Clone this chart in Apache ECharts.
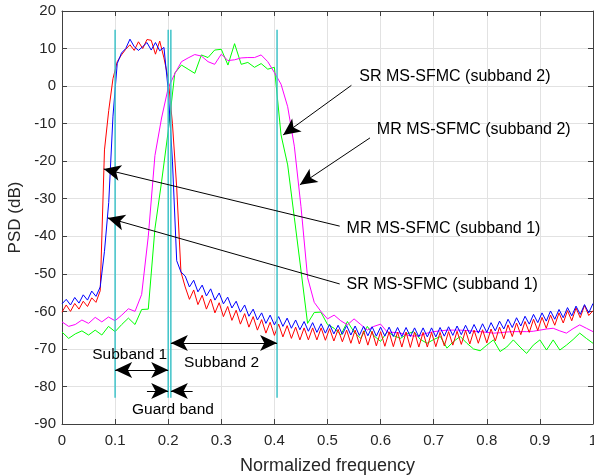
<!DOCTYPE html>
<html>
<head>
<meta charset="utf-8">
<title>PSD of MS-SFMC subbands</title>
<script src="https://cdn.jsdelivr.net/npm/echarts@6/dist/echarts.min.js"></script>
<style>
  html, body { margin: 0; padding: 0; background: #fff; }
  #main { width: 594px; height: 475px; }
</style>
</head>
<body>
<div id="main"></div>
<script>
// normalized frequency grids
const fineStep = 0.008;     // subband 1 curves
const coarseStep = 0.0125;  // subband 2 curves

// PSD (dB)
// SR MS-SFMC (subband 1) - blue
const srSub1 = [
  -58, -56.8, -58.3, -56.3, -57.8, -55.6, -57, -54.6, -56, -53.5,
  -44, -31, -8, 6, 8.8, 10, 12.5, 10.5, 9.5, 10.5,
  11.6, 9.6, 11.6, 9.4, 10.3, -1, -20, -46.5, -49.5, -50.6,
  -53.5, -51.7, -54.8, -53.0, -55.9, -54.0, -57.0, -55.1, -58.0, -56.2,
  -59.1, -57.3, -60.2, -58.3, -61.3, -59.4, -62.3, -60.4, -63.2, -61.0,
  -63.6, -61.4, -64.0, -61.8, -64.5, -62.3, -64.9, -62.7, -65.3, -63.0,
  -65.6, -63.3, -65.8, -63.5, -66.0, -63.7, -66.1, -63.8, -66.3, -63.9,
  -66.4, -64.0, -66.5, -64.1, -66.6, -64.2, -66.6, -64.2, -66.7, -64.3,
  -66.7, -64.3, -66.7, -64.4, -66.8, -64.4, -66.8, -64.4, -66.8, -64.3,
  -66.6, -64.1, -66.4, -63.9, -66.2, -63.7, -66.0, -63.5, -65.8, -63.3,
  -65.6, -63.0, -65.2, -62.6, -64.7, -62.1, -64.3, -61.7, -63.9, -61.3,
  -63.4, -60.8, -63.0, -60.4, -62.6, -59.9, -62.1, -59.5, -61.7, -59.0,
  -61.2, -58.6, -60.8, -58.2, -60.4, -57.9
];
// MR MS-SFMC (subband 1) - red
const mrSub1 = [
  -60.2, -58.3, -60.0, -57.9, -59.4, -57.3, -58.7, -56.4, -57.6, -54.5,
  -17, -6.5, 2, 6.5, 8.3, 9.8, 11, 9.5, 11.8, 10,
  12.4, 12.2, 8.5, 12.0, 7.5, 2, -10, -27, -49.5, -53.5,
  -56.8, -54.3, -58.2, -55.7, -59.4, -56.7, -60.4, -57.7, -61.4, -58.7,
  -62.4, -59.7, -63.4, -60.6, -64.2, -61.4, -65.0, -62.2, -65.8, -62.9,
  -66.4, -63.4, -66.8, -63.8, -67.2, -64.2, -67.6, -64.4, -67.6, -64.4,
  -67.6, -64.4, -67.7, -64.6, -67.9, -64.8, -68.1, -65.0, -68.5, -65.0,
  -68.7, -65.2, -69.0, -65.3, -69.2, -65.4, -69.3, -65.5, -69.4, -65.5,
  -69.5, -65.5, -69.6, -65.5, -69.5, -65.6, -69.5, -65.6, -69.4, -65.6,
  -69.2, -65.4, -69.0, -65.3, -68.8, -65.1, -68.7, -65.0, -68.5, -64.9,
  -68.4, -64.7, -67.9, -64.2, -67.3, -63.6, -66.7, -63.1, -66.2, -62.7,
  -65.6, -62.1, -65.1, -61.6, -64.5, -61.0, -63.7, -60.4, -63.1, -59.8,
  -62.5, -59.1, -61.7, -58.4, -61.1, -59.8
];
// SR MS-SFMC (subband 2) - green
const srSub2 = [
  -65.5, -67.2, -66.0, -65.2, -66.3, -65.0, -66.3, -64.0, -65.4, -63.5,
  -61.8, -63.5, -59.5, -59.4, -38, -25.5, -12, 3.5, 5.6, 4.5,
  3.4, 8.3, 7.6, 9.6, 9.8, 5.6, 11.3, 5.8, 6.3, 5.0,
  6.0, 4.5, 5.0, -13, -21, -35, -49, -63.2, -60.3, -60.2,
  -63.5, -64.5, -66.3, -62.7, -65.5, -67.2, -64.0, -66.5, -68.0, -65.4,
  -66.5, -67.2, -66.0, -65.4, -67.5, -68.5, -67.5, -66.7, -69.8, -68.0,
  -66.7, -68.5, -70.0, -70.5, -69.0, -67.6, -70.7, -69.5, -67.6, -69.5,
  -71.2, -69.0, -67.6, -70.3, -67.6, -70.3, -69.0, -67.5, -65.8, -67.2,
  -68.5
];
// MR MS-SFMC (subband 2) - magenta
const mrSub2 = [
  -62.8, -64.0, -63.5, -62.3, -63.2, -61.6, -62.8, -61.5, -62.5, -61.0,
  -59.3, -60.0, -55.5, -40, -18.5, -8.5, -0.5, 3.3, 6.5, 7.5,
  8.4, 8.0, 6.5, 5.8, 8.5, 6.8, 7.0, 7.5, 7.6, 7.6,
  8.3, 6.5, 3.6, 0.5, -5.5, -16, -32, -51, -57.6, -60.0,
  -62.0, -61.0, -62.5, -63.6, -62.0, -63.5, -65.0, -64.0, -63.4, -65.5,
  -65.6, -65.8, -66.3, -66.6, -66.4, -65.8, -65.4, -65.2, -65.0, -65.0,
  -65.0, -65.1, -65.3, -65.4, -65.6, -65.8, -65.7, -65.5, -65.4, -65.4,
  -65.4, -65.3, -65.0, -64.7, -64.5, -65.2, -65.8, -64.6, -63.6, -64.5,
  -65.4
];

// subband / guard band edges (cyan markers)
const bandEdges = [0.1, 0.2, 0.205, 0.405];
const edgeLow = -83, edgeHigh = 15;

// axes
const xRange = [0, 1, 0.1];
const yRange = [-90, 20, 10];

// callouts: text anchor (left-middle), arrow tail, arrow tip
const callouts = [
  { text: 'SR MS-SFMC (subband 2)', at: [0.559, 2.4],   from: [0.545, 0.2],   to: [0.4165, -13.0] },
  { text: 'MR MS-SFMC (subband 2)', at: [0.592, -11.7], from: [0.580, -13.8], to: [0.448, -26.3] },
  { text: 'MR MS-SFMC (subband 1)', at: [0.535, -37.9], from: [0.523, -37.3], to: [0.0786, -22.1] },
  { text: 'SR MS-SFMC (subband 1)', at: [0.535, -53.0], from: [0.523, -52.7], to: [0.0861, -35.1] }
];
// band labels and their arrows
const bandLabels = [
  { text: 'Subband 1',  at: [0.056, -71.6] },
  { text: 'Subband 2',  at: [0.229, -73.7] },
  { text: 'Guard band', at: [0.131, -86.3] }
];
const bandArrows = [
  { from: [0.1, -75.6],   to: [0.2, -75.6],   both: true },
  { from: [0.205, -68.4], to: [0.405, -68.4], both: true },
  { from: [0.160, -81.2], to: [0.2, -81.2],   both: false },
  { from: [0.246, -81.2], to: [0.205, -81.2], both: false }
];

const font = 'Liberation Sans, Arial, Helvetica, sans-serif';
const toPairs = (step, ys) => ys.map((y, i) => [+(i * step).toFixed(4), y]);

const arrowSize = [12, 17];
const lineMarks = callouts.map(c => [
  { coord: c.from, symbol: 'none' },
  { coord: c.to, symbol: 'arrow', symbolSize: arrowSize }
]).concat(bandArrows.map(a => [
  { coord: a.from, symbol: a.both ? 'arrow' : 'none', symbolSize: arrowSize },
  { coord: a.to, symbol: 'arrow', symbolSize: arrowSize }
]));

const pointMarks = callouts.map(c => ({ name: c.text, coord: c.at, label: { fontSize: 16 } }))
  .concat(bandLabels.map(b => ({ name: b.text, coord: b.at, label: { fontSize: 15.5 } })));

function curve(name, step, ys, color) {
  return {
    name: name, type: 'line', data: toPairs(step, ys),
    showSymbol: false, symbol: 'none',
    lineStyle: { color: color, width: 1 },
    itemStyle: { color: color }
  };
}

const series = [
  curve('SR MS-SFMC (subband 2)', coarseStep, srSub2, '#00ff00'),
  curve('MR MS-SFMC (subband 2)', coarseStep, mrSub2, '#ff00ff'),
  curve('MR MS-SFMC (subband 1)', fineStep, mrSub1, '#ff0000'),
  curve('SR MS-SFMC (subband 1)', fineStep, srSub1, '#0000ff')
];
bandEdges.forEach(x => {
  series.push({
    type: 'line', data: [[x, edgeLow], [x, edgeHigh]],
    showSymbol: false, symbol: 'none',
    lineStyle: { color: '#3fc3c9', width: 1.5 }
  });
});
series.push({
  type: 'line', data: [], silent: true,
  markLine: {
    silent: true, animation: false,
    lineStyle: { color: '#000', width: 1, type: 'solid' },
    itemStyle: { color: '#000' },
    label: { show: false },
    data: lineMarks
  },
  markPoint: {
    silent: true, animation: false,
    symbol: 'circle', symbolSize: 1,
    itemStyle: { color: 'rgba(0,0,0,0)' },
    label: {
      show: true, position: 'right', distance: 0,
      color: '#000', fontFamily: font, fontSize: 16,
      formatter: p => p.name
    },
    data: pointMarks
  }
});

const axisColor = '#404040';
const chart = echarts.init(document.getElementById('main'));
chart.setOption({
  animation: false,
  backgroundColor: '#fff',
  grid: { left: 62, right: 1, top: 11, bottom: 51, outerBoundsMode: 'none', containLabel: false },
  xAxis: [{
    type: 'value', min: xRange[0], max: xRange[1], interval: xRange[2],
    name: 'Normalized frequency', nameLocation: 'middle', nameGap: 33,
    nameTextStyle: { color: '#262626', fontFamily: font, fontSize: 18 },
    axisLine: { onZero: false, lineStyle: { color: axisColor, width: 1 } },
    axisTick: { inside: true, length: 5, lineStyle: { color: axisColor } },
    axisLabel: { color: '#262626', fontFamily: font, fontSize: 15, margin: 9 },
    splitLine: { show: true, lineStyle: { color: '#e2e2e2', width: 1 } }
  }, {
    type: 'value', position: 'top', min: xRange[0], max: xRange[1], interval: xRange[2],
    axisLine: { show: true, onZero: false, lineStyle: { color: axisColor, width: 1 } },
    axisTick: { inside: true, length: 5, lineStyle: { color: axisColor } },
    axisLabel: { show: false }, splitLine: { show: false }
  }],
  yAxis: [{
    type: 'value', min: yRange[0], max: yRange[1], interval: yRange[2],
    name: 'PSD (dB)', nameLocation: 'middle', nameGap: 34, nameRotate: 90,
    nameTextStyle: { color: '#262626', fontFamily: font, fontSize: 17 },
    axisLine: { show: true, onZero: false, lineStyle: { color: axisColor, width: 1 } },
    axisTick: { show: true, inside: true, length: 5, lineStyle: { color: axisColor } },
    axisLabel: { color: '#262626', fontFamily: font, fontSize: 15, margin: 6 },
    splitLine: { show: true, lineStyle: { color: '#e2e2e2', width: 1 } }
  }, {
    type: 'value', position: 'right', min: yRange[0], max: yRange[1], interval: yRange[2],
    axisLine: { show: true, onZero: false, lineStyle: { color: axisColor, width: 1 } },
    axisTick: { show: true, inside: true, length: 5, lineStyle: { color: axisColor } },
    axisLabel: { show: false }, splitLine: { show: false }
  }],
  series: series
});
</script>
</body>
</html>
